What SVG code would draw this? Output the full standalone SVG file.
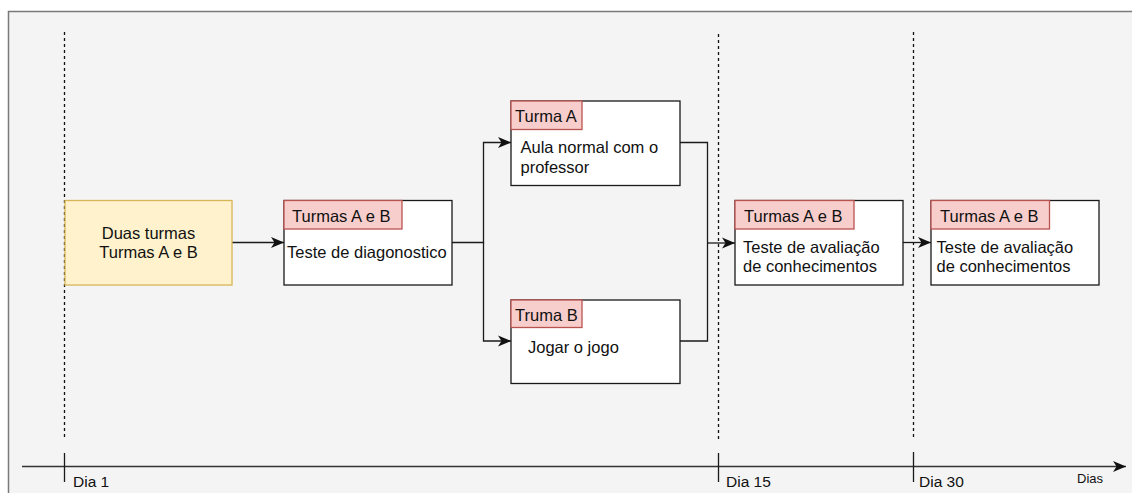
<svg xmlns="http://www.w3.org/2000/svg" width="1132" height="493" viewBox="0 0 1132 493">
  <style>
    text { font-family: "Liberation Sans", Arial, sans-serif; fill: #111111; }
    .lbl { font-size: 16.5px; }
    .day { font-size: 15.5px; }
    .box { fill: #ffffff; stroke: #1a1a1a; stroke-width: 1.3; }
    .hdr { fill: #f8cecc; stroke: #b85450; stroke-width: 1.3; }
    .start { fill: #fff2cc; stroke: #d6b656; stroke-width: 1.3; }
    .edge { fill: none; stroke: #1a1a1a; stroke-width: 1.3; }
    .guide { fill: none; stroke: #111111; stroke-width: 1.3; stroke-dasharray: 3 3; }
    .tick { stroke: #1a1a1a; stroke-width: 1.3; }
  </style>
  <defs>
    <marker id="arrow" markerUnits="userSpaceOnUse" markerWidth="14" markerHeight="12" refX="13" refY="6" orient="auto">
      <path d="M0,0.5 L13,6 L0,11.5 L3.5,6 Z" fill="#111111"/>
    </marker>
  </defs>

  <!-- page -->
  <rect x="0" y="0" width="1132" height="493" fill="#ffffff"/>
  <rect x="8.5" y="11.5" width="1130" height="490" fill="#f4f4f4" stroke="#7a7a7a" stroke-width="1.5"/>

  <!-- timeline -->
  <g id="timeline">
    <line x1="64.5" y1="32" x2="64.5" y2="440" class="guide"/>
    <line x1="718.5" y1="34" x2="718.5" y2="440" class="guide"/>
    <line x1="913.5" y1="32" x2="913.5" y2="440" class="guide"/>
    <line x1="22" y1="466.5" x2="1126" y2="466.5" stroke="#333" stroke-width="1.4" marker-end="url(#arrow)"/>
    <line x1="64.5" y1="453" x2="64.5" y2="482" class="tick"/>
    <line x1="718.5" y1="453" x2="718.5" y2="482" class="tick"/>
    <line x1="913.5" y1="452" x2="913.5" y2="482" class="tick"/>
    <text x="73" y="487" class="day">Dia 1</text>
    <text x="726" y="487" class="day">Dia 15</text>
    <text x="919" y="487" class="day">Dia 30</text>
    <text x="1077" y="483" font-size="13px">Dias</text>
  </g>

  <!-- connectors -->
  <g id="connectors">
    <path d="M232,242.5 H284" class="edge" marker-end="url(#arrow)"/>
    <path d="M452,242.5 H483.5 V142.5 H511" class="edge" marker-end="url(#arrow)"/>
    <path d="M483.5,242.5 V341 H511" class="edge" marker-end="url(#arrow)"/>
    <path d="M680,142.5 H707.5 V243" class="edge"/>
    <path d="M680,341 H707.5 V243" class="edge"/>
    <path d="M707.5,243 H735" class="edge" marker-end="url(#arrow)"/>
    <path d="M903,242.5 H931" class="edge" marker-end="url(#arrow)"/>
  </g>

  <!-- start node -->
  <g id="node-start">
    <rect x="65" y="200.5" width="167" height="84.5" class="start"/>
    <text x="148.5" y="239.3" class="lbl" text-anchor="middle">Duas turmas</text>
    <text x="148.5" y="258.3" class="lbl" text-anchor="middle">Turmas A e B</text>
  </g>

  <!-- diagnostic test -->
  <g id="node-diagnostico">
    <rect x="284" y="200.5" width="168" height="84.5" class="box"/>
    <rect x="284" y="200.5" width="118" height="28.5" class="hdr"/>
    <text x="292" y="221.5" class="lbl">Turmas A e B</text>
    <text x="287" y="258.3" class="lbl">Teste de diagonostico</text>
  </g>

  <!-- class A -->
  <g id="node-turma-a">
    <rect x="511" y="101" width="169" height="84.5" class="box"/>
    <rect x="511" y="101" width="71" height="28.5" class="hdr"/>
    <text x="515" y="121.7" class="lbl">Turma A</text>
    <text x="520.5" y="153" class="lbl">Aula normal com o</text>
    <text x="520.5" y="172.5" class="lbl">professor</text>
  </g>

  <!-- class B -->
  <g id="node-turma-b">
    <rect x="511" y="300" width="169" height="83.5" class="box"/>
    <rect x="511" y="300" width="71" height="27.5" class="hdr"/>
    <text x="515" y="320.7" class="lbl">Truma B</text>
    <text x="528" y="353" class="lbl">Jogar o jogo</text>
  </g>

  <!-- assessment day 15 -->
  <g id="node-avaliacao-15">
    <rect x="735" y="200.5" width="168" height="84.5" class="box"/>
    <rect x="735" y="200.5" width="119" height="28.5" class="hdr"/>
    <text x="744" y="221.5" class="lbl">Turmas A e B</text>
    <text x="743" y="253.3" class="lbl">Teste de avaliação</text>
    <text x="743" y="271.7" class="lbl">de conhecimentos</text>
  </g>

  <!-- assessment day 30 -->
  <g id="node-avaliacao-30">
    <rect x="931" y="200.5" width="168" height="84.5" class="box"/>
    <rect x="931" y="200.5" width="118.5" height="28.5" class="hdr"/>
    <text x="940" y="221.5" class="lbl">Turmas A e B</text>
    <text x="936.5" y="253.3" class="lbl">Teste de avaliação</text>
    <text x="936.5" y="271.7" class="lbl">de conhecimentos</text>
  </g>
</svg>
